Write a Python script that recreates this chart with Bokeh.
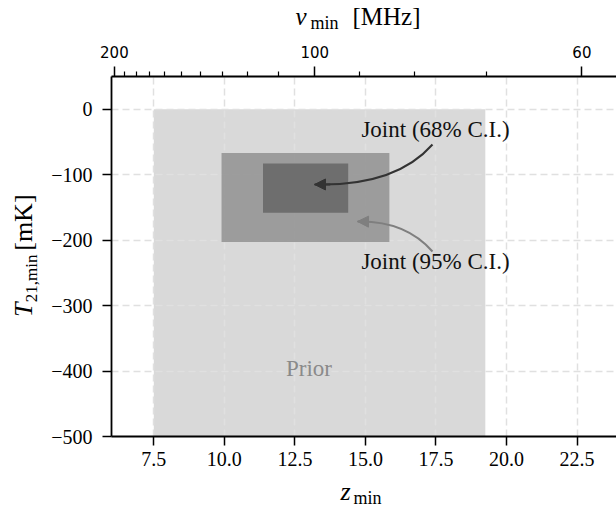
import numpy as np
from bokeh.plotting import figure
from bokeh.layouts import column, row
from bokeh.models import (Range1d, LinearAxis, FixedTicker, CustomJSTickFormatter,
                          Label, Arrow, NormalHead)
from bokeh.embed import file_html
from bokeh.resources import INLINE

# ---- data -----------------------------------------------------------------
# parameter bounds: redshift of the absorption minimum and its depth [mK]
prior_z = [7.5, 19.25]
prior_T = [-500, 0]
joint95_z = [9.9, 15.85]
joint95_T = [-203, -67]
joint68_z = [11.37, 14.39]
joint68_T = [-158, -83]

z_ticks = [7.5, 10.0, 12.5, 15.0, 17.5, 20.0, 22.5]
z_tick_labels = ["7.5", "10.0", "12.5", "15.0", "17.5", "20.0", "22.5"]
T_ticks = [0, -100, -200, -300, -400, -500]
T_tick_labels = ["0", "\u2212100", "\u2212200", "\u2212300", "\u2212400", "\u2212500"]
nu_major = [200, 100, 60]
nu_major_labels = ["200", "100", "60"]
nu_minor = [190, 180, 170, 160, 150, 140, 130, 120, 110, 90, 80, 70]

NU21 = 1420.405751  # rest frequency of the 21-cm line [MHz]


def z_of_nu(nu):
    return [NU21 / n - 1.0 for n in nu]


# ---- layout (page pixels) ---------------------------------------------------
W, H = 616, 510
LEFT, RIGHT, TOP, BOTTOM = 111, 616, 76, 436      # plot frame
TITLE_TOP, TITLE_BOTTOM, TITLE_LEFT = 34, 36, 45  # strips holding axis titles
X0, X1 = 6.0, 23.9
Y0, Y1 = -500.0, 50.0
RAISE = 0.33  # lift of Label text (in em) so the anchor sits on the baseline


def dx(px):
    return X0 + (px - LEFT) * (X1 - X0) / (RIGHT - LEFT)


def dy(py):
    return Y1 - (py - TOP) * (Y1 - Y0) / (BOTTOM - TOP)


main_w = W - TITLE_LEFT
main_h = H - TITLE_TOP - TITLE_BOTTOM
p = figure(width=main_w, height=main_h, x_range=Range1d(X0, X1), y_range=Range1d(Y0, Y1),
           output_backend="svg", toolbar_location=None,
           min_border_left=LEFT - TITLE_LEFT, min_border_right=W - RIGHT,
           min_border_top=TOP - TITLE_TOP, min_border_bottom=H - TITLE_BOTTOM - BOTTOM)
p.outline_line_color = None
p.background_fill_color = "white"
p.border_fill_color = "white"

SERIF = "Liberation Serif"
PICK = """
let best = 0, d = Infinity;
for (let i = 0; i < pos.length; i++) {
  const e = Math.abs(pos[i] - tick);
  if (e < d) { d = e; best = i; }
}
return labs[best];
"""

xax = p.xaxis[0]
xax.ticker = FixedTicker(ticks=z_ticks, minor_ticks=[])
xax.formatter = CustomJSTickFormatter(args=dict(pos=z_ticks, labs=z_tick_labels), code=PICK)
yax = p.yaxis[0]
yax.ticker = FixedTicker(ticks=T_ticks, minor_ticks=[])
yax.formatter = CustomJSTickFormatter(args=dict(pos=T_ticks, labs=T_tick_labels), code=PICK)

top = LinearAxis(
    ticker=FixedTicker(ticks=z_of_nu(nu_major), minor_ticks=z_of_nu(nu_minor)),
    formatter=CustomJSTickFormatter(args=dict(pos=z_of_nu(nu_major), labs=nu_major_labels),
                                    code=PICK))
p.add_layout(top, "above")

for ax in (xax, yax, top):
    ax.axis_line_width = 1.8
    ax.axis_line_color = "black"
    ax.major_tick_line_width = 1.5
    ax.major_tick_line_color = "black"
    ax.major_tick_in = 0
    ax.major_tick_out = 9
    ax.minor_tick_in = 0
    ax.minor_tick_out = 5
    ax.minor_tick_line_width = 1.2
    ax.minor_tick_line_color = "black"
    ax.major_label_text_color = "black"

for ax in (xax, yax):
    ax.major_label_text_font = SERIF
    ax.major_label_text_font_size = "20px"
xax.major_label_standoff = 6
yax.major_label_standoff = 10
top.major_tick_out = 10
top.major_label_text_font = "DejaVu Sans"
top.major_label_text_font_size = "15px"
top.major_label_standoff = 9

for g in (p.xgrid[0], p.ygrid[0]):
    g.grid_line_color = "#e0e0e0"
    g.grid_line_dash = "7 4"
    g.grid_line_width = 1.5
    g.level = "underlay"

# ---- regions --------------------------------------------------------------
p.quad(left=[prior_z[0]], right=[prior_z[1]], bottom=[prior_T[0]], top=[prior_T[1]],
       fill_color="#d9d9d9", line_color=None, level="image")
p.quad(left=[joint95_z[0]], right=[joint95_z[1]], bottom=[joint95_T[0]], top=[joint95_T[1]],
       fill_color="#999999", line_color=None, fill_alpha=0.95)
p.quad(left=[joint68_z[0]], right=[joint68_z[1]], bottom=[joint68_T[0]], top=[joint68_T[1]],
       fill_color="#6b6b6b", line_color=None, fill_alpha=0.95)


# ---- curved annotation arrows ---------------------------------------------
def curved_arrow(start, ctrl, tip, color):
    p.quadratic(x0=[start[0]], y0=[start[1]], x1=[tip[0]], y1=[tip[1]],
                cx=[ctrl[0]], cy=[ctrl[1]], line_color=color, line_width=2)
    t = 0.9
    bx = (1 - t) ** 2 * start[0] + 2 * (1 - t) * t * ctrl[0] + t ** 2 * tip[0]
    by = (1 - t) ** 2 * start[1] + 2 * (1 - t) * t * ctrl[1] + t ** 2 * tip[1]
    p.add_layout(Arrow(end=NormalHead(size=11, fill_color=color, line_color=color, line_width=1),
                       x_start=bx, y_start=by, x_end=tip[0], y_end=tip[1],
                       line_color=color, line_width=2))


curved_arrow((dx(432), dy(144)), (dx(395), dy(186)), (dx(314), dy(184)), "#333333")
curved_arrow((dx(432), dy(251)), (dx(405), dy(220)), (dx(357), dy(221)), "#7f7f7f")


def note(text, px, py, color):
    p.add_layout(Label(x=dx(px), y=dy(py - RAISE * 23), text=text, text_align="center",
                       text_baseline="alphabetic", text_font=SERIF,
                       text_font_size="23px", text_color=color))


note("Joint (68% C.I.)", 435, 136.5, "#111111")
note("Joint (95% C.I.)", 435, 269, "#111111")
note("Prior", 308.5, 376, "#8a8a8a")


# ---- axis titles: symbol, subscript and unit set as separate pieces --------
def strip(w, h):
    f = figure(width=w, height=h, x_range=Range1d(0, w), y_range=Range1d(0, h),
               output_backend="svg", toolbar_location=None,
               x_axis_location=None, y_axis_location=None,
               min_border_left=0, min_border_right=0, min_border_top=0, min_border_bottom=0)
    f.grid.visible = False
    f.outline_line_color = None
    f.background_fill_color = "white"
    f.border_fill_color = "white"
    return f


def piece(f, text, px, py, size, italic=False, vertical=False):
    """Place text with its baseline start at page pixel (px, py)."""
    h = f.height
    if vertical:
        x, y = px - RAISE * size, h - py
    else:
        x, y = px, h - (py - RAISE * size)
    f.add_layout(Label(x=x, y=y, text=text, text_align="left",
                       text_baseline="alphabetic", text_font=SERIF,
                       text_font_size=f"{size}px", angle=np.pi / 2 if vertical else 0.0,
                       text_font_style="italic" if italic else "normal",
                       text_color="black"))


top_strip = strip(W, TITLE_TOP)
piece(top_strip, "\u03bd", 295, 24, 25, italic=True)
piece(top_strip, "min", 310, 28, 18)
piece(top_strip, "[MHz]", 352, 24, 25)

bottom_strip = strip(W, TITLE_BOTTOM)
oy = H - TITLE_BOTTOM
piece(bottom_strip, "z", 340, 500 - oy, 26, italic=True)
piece(bottom_strip, "min", 353, 503 - oy, 18)

left_strip = strip(TITLE_LEFT, main_h)
oy = TITLE_TOP
piece(left_strip, "T", 32, 328 - oy, 26, italic=True, vertical=True)
piece(left_strip, "21,min", 37, 310 - oy, 17, vertical=True)
piece(left_strip, "[mK]", 32, 247 - oy, 26, vertical=True)

page = column(top_strip, row(left_strip, p), bottom_strip)

open("out.html", "w").write(file_html(page, INLINE))
